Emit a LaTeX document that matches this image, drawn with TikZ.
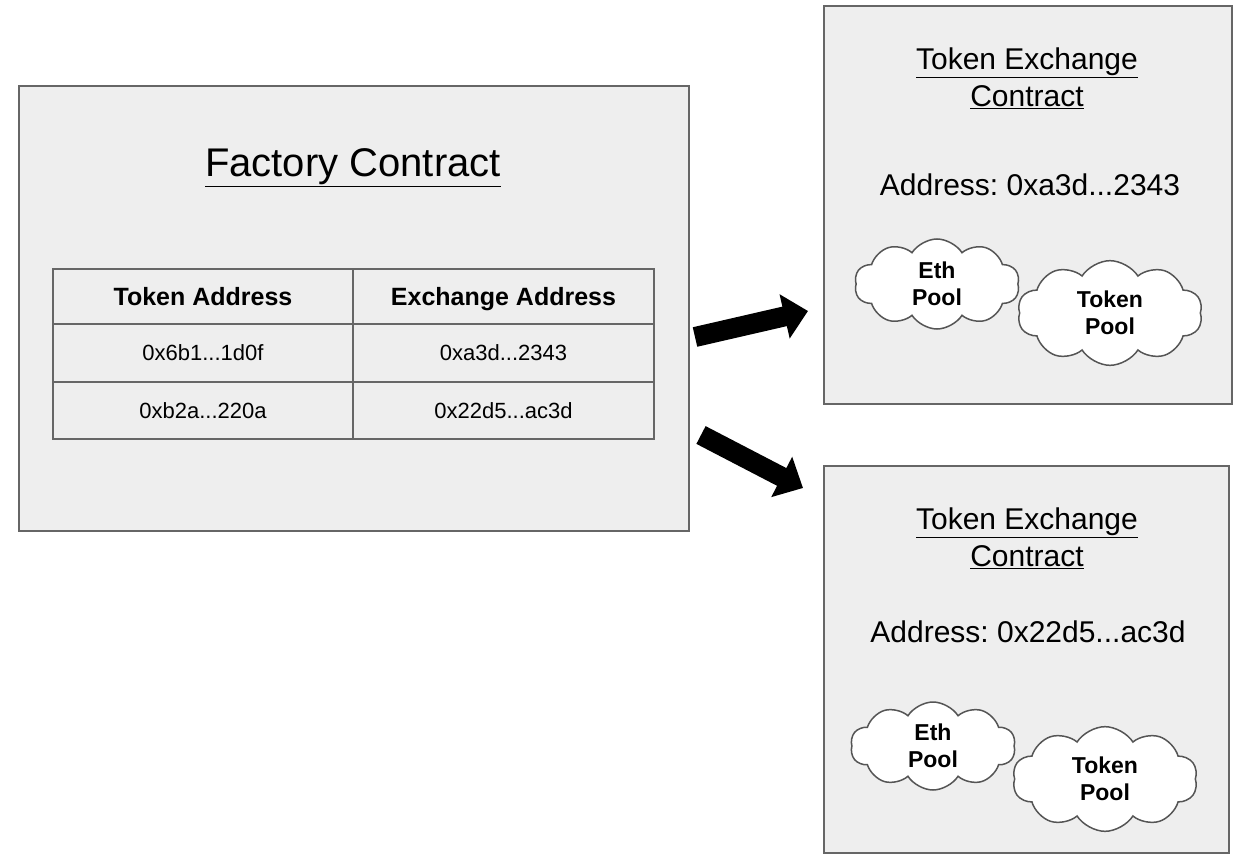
\documentclass[tikz,border=0pt]{standalone}
\usepackage{fontspec}
\setmainfont{Liberation Sans}
\usetikzlibrary{shapes.symbols,arrows.meta}
\definecolor{boxfill}{HTML}{EEEEEE}
\definecolor{boxline}{HTML}{666666}
\definecolor{cloudline}{HTML}{555555}
\frenchspacing
\tikzset{
  panel/.style={draw=boxline, fill=boxfill, line width=2pt, anchor=north west, inner sep=0pt},
  cell/.style={draw=boxline, line width=2pt, anchor=north west, inner sep=0pt,
    text height=15.8pt, text depth=0pt, font=\fontsize{22}{26}\selectfont},
  headcell/.style={cell, text height=17.9pt, font=\fontsize{25}{30}\selectfont\bfseries},
  title/.style={align=center, font=\fontsize{30}{37}\selectfont},
  addr/.style={font=\fontsize{30}{36}\selectfont},
  pool/.style={cloud, cloud puffs=10, cloud puff arc=115, draw=cloudline, fill=white,
    line width=1.5pt, align=center, inner sep=0pt, font=\fontsize{23}{27}\selectfont\bfseries},
  bigarrow/.style={line width=20pt, -{Triangle[width=44pt,length=24pt]}}
}
\begin{document}
\begin{tikzpicture}[x=1pt,y=-1pt]
\useasboundingbox[fill=white] (0,0) rectangle (1240,861);

% factory contract with its lookup table
\node[panel, minimum width=670, minimum height=445] (factory) at (18,85) {};
\node[font=\fontsize{40}{48}\selectfont] (ftitle) at (353,168) {\underline{Factory Contract}};

\node[headcell, minimum width=300, minimum height=55] (h1) at (52,268) {Token Address};
\node[headcell, minimum width=301, minimum height=55] (h2) at (352,268) {Exchange Address};
\node[cell, minimum width=300, minimum height=58] (a1) at (52,323) {0x6b1...1d0f};
\node[cell, minimum width=301, minimum height=58] (b1) at (352,323) {0xa3d...2343};
\node[cell, minimum width=300, minimum height=57] (a2) at (52,381) {0xb2a...220a};
\node[cell, minimum width=301, minimum height=57] (b2) at (352,381) {0x22d5...ac3d};

% first exchange contract
\node[panel, minimum width=408, minimum height=398] (ex1) at (823,5) {};
\node[title] (ex1title) at (1027,78) {\underline{Token Exchange}\\\underline{Contract}};
\node[addr] (ex1addr) at (1030,185) {Address: 0xa3d...2343};
\node[pool, minimum width=165, minimum height=90] (eth1) at (937,284) {Eth\\Pool};
\node[pool, minimum width=185, minimum height=86] (tok1) at (1110,313) {Token\\Pool};

% second exchange contract
\node[panel, minimum width=405, minimum height=387] (ex2) at (823,465) {};
\node[title] (ex2title) at (1027,538) {\underline{Token Exchange}\\\underline{Contract}};
\node[addr] (ex2addr) at (1028,632) {Address: 0x22d5...ac3d};
\node[pool, minimum width=165, minimum height=88] (eth2) at (933,746) {Eth\\Pool};
\node[pool, minimum width=185, minimum height=90] (tok2) at (1105,779) {Token\\Pool};

% arrows from the factory to the exchanges
\coordinate (s1) at (695,337);
\coordinate (e1) at (808,311);
\coordinate (s2) at (701,435);
\coordinate (e2) at (803,488);
\draw[bigarrow] (s1) -- (e1);
\draw[bigarrow] (s2) -- (e2);
\end{tikzpicture}
\end{document}
